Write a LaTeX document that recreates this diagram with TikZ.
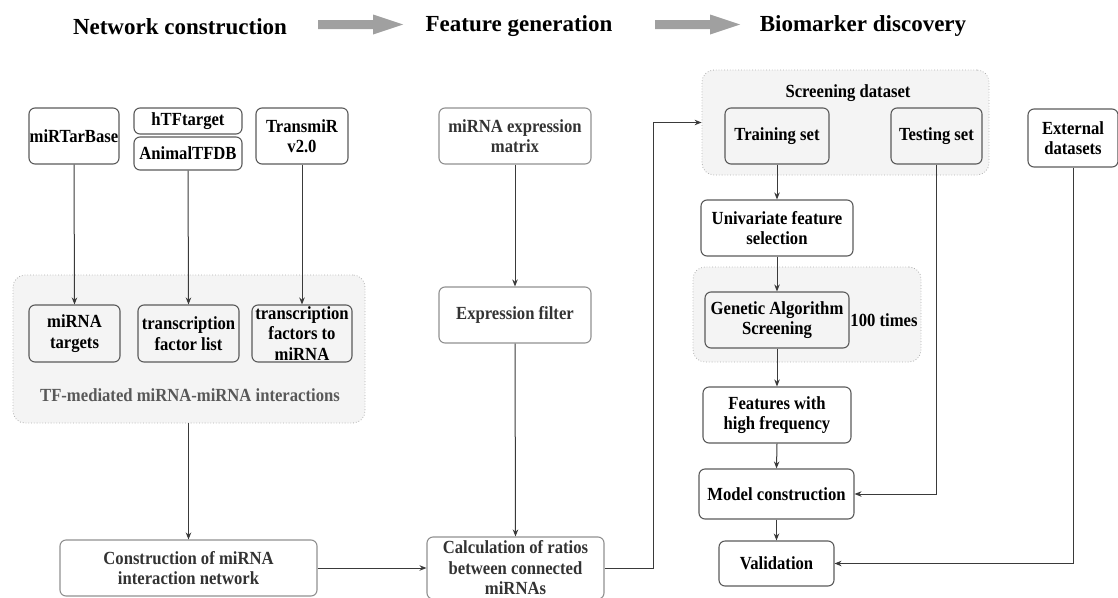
\documentclass[tikz,border=0pt]{standalone}
\usepackage{fontspec}
\setmainfont{Liberation Serif}
\newfontfamily\boxfont[FakeStretch=0.9]{Liberation Serif}
\usetikzlibrary{arrows.meta}
\definecolor{grpfill}{HTML}{F4F4F4}
\definecolor{grpline}{HTML}{B0B0B0}
\definecolor{boxline}{HTML}{5A5A5A}
\definecolor{lightline}{HTML}{909090}
\definecolor{connline}{HTML}{3A3A3A}
\definecolor{bigarrow}{HTML}{A0A0A0}
\tikzset{
  btext/.style={font=\boxfont\bfseries\fontsize{18.5}{20.5}\selectfont},
  box/.style={draw=boxline, line width=1.1pt, rounded corners=6pt, align=center, inner sep=0pt,
    btext, text=black},
  lbox/.style={box, draw=lightline, text=black!80},
  grp/.style={draw=grpline, fill=grpfill, dotted, line width=0.8pt, rounded corners=12pt, inner sep=0pt},
  conn/.style={draw=connline, line width=1pt, -{Stealth[length=7pt,width=5.5pt]}},
  title/.style={font=\bfseries\fontsize{23}{26}\selectfont, inner sep=0pt},
}
\begin{document}
\begin{tikzpicture}[x=1pt,y=-1pt]
\useasboundingbox (0,0) rectangle (1118,597);
% titles
\node[title] (t1) at (180,26.5) {Network construction};
\node[title] (t2) at (519,26.5) {Feature generation};
\node[title] (t3) at (863,26.5) {Biomarker discovery};
\fill[bigarrow] (318,20) -- (373,20) -- (373,14.5) -- (403,24.5) -- (373,34.5) -- (373,29) -- (318,29) -- cycle;
\fill[bigarrow] (655,20) -- (710,20) -- (710,14.5) -- (740,24.5) -- (710,34.5) -- (710,29) -- (655,29) -- cycle;

% groups
\node[grp, minimum width=352pt, minimum height=148pt] (tfg) at (189,349) {};
\node[grp, minimum width=287pt, minimum height=105pt] (scr) at (845.5,122.5) {};
\node[grp, minimum width=228pt, minimum height=95pt] (gag) at (807,314.5) {};

% network construction
\node[box, minimum width=90pt, minimum height=56pt] (mirt) at (74,136) {miRTarBase};
\node[box, minimum width=108pt, minimum height=26pt] (htf) at (188,121) {hTFtarget};
\node[box, minimum width=108pt, minimum height=33pt] (atf) at (188,153.5) {AnimalTFDB};
\node[box, minimum width=92pt, minimum height=56pt] (tmir) at (302,136) {TransmiR\\v2.0};
\node[box, minimum width=91pt, minimum height=57pt] (tgt) at (74.5,333.5) {miRNA\\targets};
\node[box, minimum width=101pt, minimum height=57pt] (tfl) at (188.5,333.5) {transcription\\factor list};
\node[box, minimum width=100pt, minimum height=57pt] (tfm) at (302,333.5) {transcription\\factors to\\miRNA};
\node[btext, text=black!65, inner sep=0pt] (tflab) at (190,395) {TF-mediated miRNA-miRNA interactions};
\node[lbox, minimum width=257pt, minimum height=56pt] (cons) at (188.5,568) {Construction of miRNA\\interaction network};

% feature generation
\node[lbox, minimum width=152pt, minimum height=56pt] (mexp) at (515,136) {miRNA expression\\matrix};
\node[lbox, minimum width=152pt, minimum height=56pt] (filt) at (515,315) {Expression filter};
\node[lbox, minimum width=177pt, minimum height=62pt] (calc) at (515.5,568) {Calculation of ratios\\between connected\\miRNAs};

% biomarker discovery
\node[btext, inner sep=0pt] (scrlab) at (848,93) {Screening dataset};
\node[box, minimum width=104pt, minimum height=56pt] (train) at (777,136) {Training set};
\node[box, minimum width=91pt, minimum height=56pt] (test) at (936.5,136) {Testing set};
\node[box, minimum width=90pt, minimum height=58pt] (ext) at (1073,138) {External\\datasets};
\node[box, minimum width=152pt, minimum height=56pt] (uni) at (777,228) {Univariate feature\\selection};
\node[box, minimum width=144pt, minimum height=56pt] (ga) at (777,320) {Genetic Algorithm\\Screening};
\node[btext, inner sep=0pt] (times) at (884,320) {100 times};
\node[box, minimum width=148pt, minimum height=56pt] (feat) at (777,415) {Features with\\high frequency};
\node[box, minimum width=155pt, minimum height=50pt] (model) at (776.5,494) {Model construction};
\node[box, minimum width=115pt, minimum height=45pt] (val) at (776.5,563.5) {Validation};

% connectors
\draw[conn] (mirt.south) -- (tgt.north);
\draw[conn] (atf.south) -- (tfl.north);
\draw[conn] (tmir.south) -- (tfm.north);
\draw[conn] (tfg.south -| cons.north) -- (cons.north);
\draw[conn] (cons.east) -- (calc.west);
\draw[conn] (mexp.south) -- (filt.north);
\draw[conn] (filt.south) -- (calc.north);
\draw[conn] (calc.east) -- ++(49,0) |- (scr.west);
\draw[conn] (train.south) -- (uni.north);
\draw[conn] (uni.south) -- (ga.north);
\draw[conn] (ga.south) -- (feat.north);
\draw[conn] (feat.south) -- (model.north);
\draw[conn] (model.south) -- (val.north);
\draw[conn] (test.south) |- (model.east);
\draw[conn] (ext.south) |- (val.east);
\end{tikzpicture}
\end{document}
